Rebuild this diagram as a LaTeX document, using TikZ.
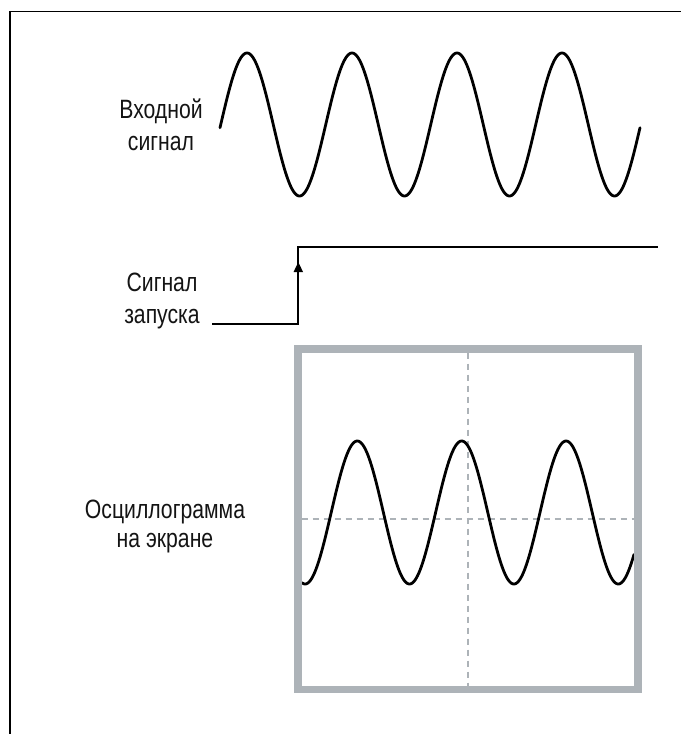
\documentclass[tikz,border=0pt]{standalone}
\usepackage{fontspec}
\setmainfont[FakeStretch=0.8]{Liberation Sans}
\usetikzlibrary{arrows.meta}
\definecolor{scr}{HTML}{ADB3B8}
\begin{document}
\begin{tikzpicture}[x=1pt,y=-1pt,
  lbl/.style={font=\fontsize{26.5}{32}\selectfont, align=center, inner sep=0pt, text=black!92},
  wave/.style={line width=2.8pt, line join=round, line cap=round},
  trig/.style={line width=1.8pt},
  grid/.style={draw=scr, line width=2pt, dash pattern=on 6pt off 5pt}]
\useasboundingbox (0,0) rectangle (681,734);
% frame lines
\coordinate (fa) at (10,734);
\coordinate (fb) at (10,11.7);
\coordinate (fc) at (681,11.7);
\draw[line width=1.5pt] (fa) -- (fb) -- (fc);
% input signal
\node[lbl, anchor=base] (in) at (161,150) {Входной\\сигнал};
\draw[wave] plot[domain=220:640, samples=400, smooth] (\x, {124.5-71.5*sin(3.428571*(\x-220.75))});
% trigger
\node[lbl, anchor=base] (tr) at (162,323) {Сигнал\\запуска};
\coordinate (t0) at (212,324.3);
\coordinate (t1) at (298.3,324.3);
\coordinate (t2) at (298.3,246.7);
\coordinate (t3) at (658,246.7);
\coordinate (ta) at (298.3,262);
\draw[trig] (t0) -- (t1) -- (t2) -- (t3);
\draw[trig, -{Triangle[length=10pt,width=9pt]}] (t1) -- (ta);
% screen
\node[lbl, font=\fontsize{26.5}{28.5}\selectfont, anchor=base] (os) at (165,547) {Осциллограмма\\на экране};
\coordinate (vt) at (468.3,352.7);
\coordinate (vb) at (468.3,686);
\coordinate (hl) at (301.7,519);
\coordinate (hr) at (634,519);
\draw[grid] (vt) -- (vb);
\draw[grid] (hl) -- (hr);
\draw[wave] plot[domain=302:634, samples=400, smooth] (\x, {512.5-71.5*sin(3.448276*(\x-331.2))});
\node[draw=scr, line width=7.7pt, minimum width=340pt, minimum height=340.5pt, inner sep=0pt] (screen) at (468,519.25) {};
\end{tikzpicture}
\end{document}
